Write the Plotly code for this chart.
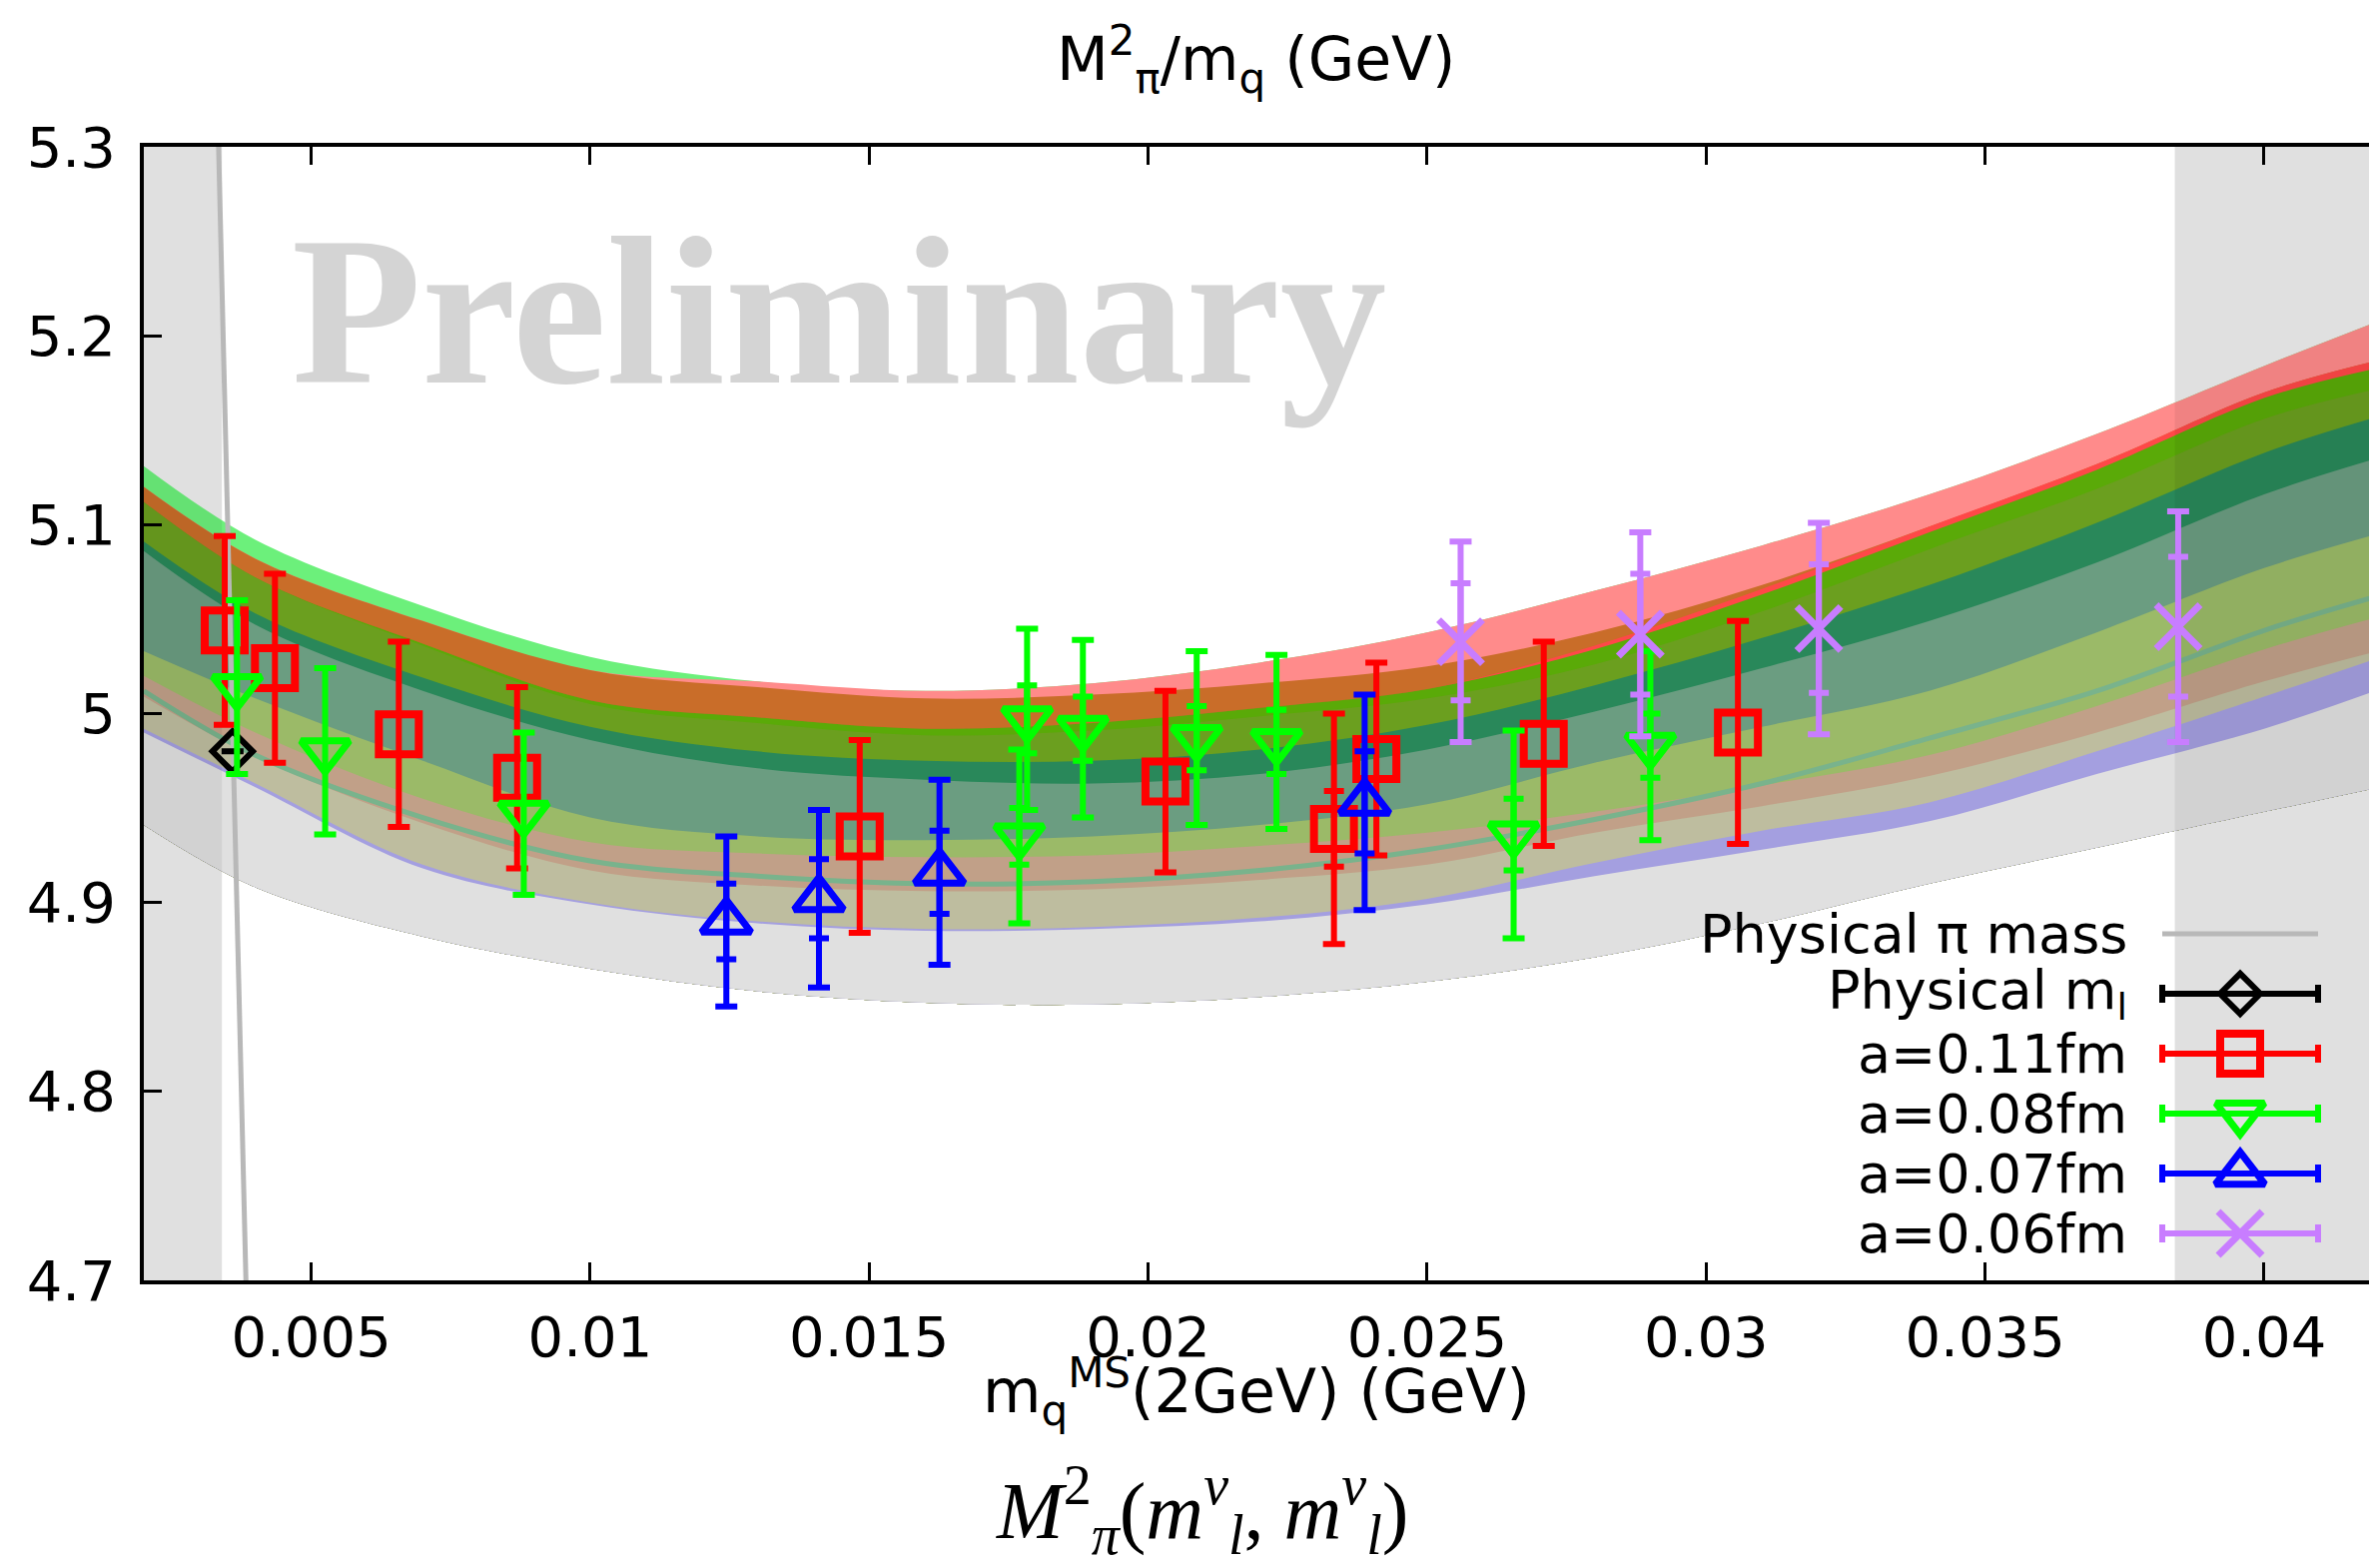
import plotly.graph_objects as go

# ---------------- data ----------------
phys_x = [0.00359]
phys_y = [4.980]

red_x = [0.00345, 0.00435, 0.00657, 0.00869, 0.01483, 0.02031, 0.02333, 0.02409, 0.02709, 0.03057]
red_y = [5.044, 5.024, 4.989, 4.966, 4.935, 4.964, 4.939, 4.976, 4.984, 4.990]
red_err = [0.050, 0.050, 0.049, 0.048, 0.051, 0.048, 0.061, 0.051, 0.054, 0.059]
red_err_in = [0, 0, 0, 0, 0, 0, 0.020, 0, 0, 0]

green_x = [0.00367, 0.00525, 0.00881, 0.01769, 0.01783, 0.01883, 0.02087, 0.02230, 0.02655, 0.02900]
green_y = [5.014, 4.980, 4.947, 4.935, 4.997, 4.992, 4.987, 4.985, 4.936, 4.983]
green_err = [0.046, 0.044, 0.043, 0.046, 0.048, 0.047, 0.046, 0.046, 0.055, 0.050]
green_err_in = [0, 0, 0, 0.015, 0.018, 0.017, 0.017, 0.017, 0.019, 0.017]

blue_x = [0.01244, 0.01410, 0.01626, 0.02388]
blue_y = [4.890, 4.902, 4.916, 4.953]
blue_err = [0.045, 0.047, 0.049, 0.057]
blue_err_in = [0.020, 0.021, 0.022, 0.027]

purple_x = [0.02560, 0.02882, 0.03202, 0.03846]
purple_y = [5.038, 5.042, 5.045, 5.046]
purple_err = [0.053, 0.054, 0.056, 0.061]
purple_err_in = [0.031, 0.032, 0.034, 0.037]

# fit bands: boundaries read top to bottom at sample x positions
band_x = [0.002, 0.004, 0.007, 0.010, 0.013, 0.016, 0.019, 0.022, 0.025, 0.028, 0.031, 0.034, 0.037, 0.040, 0.0419]
edge_top          = [5.131, 5.092, 5.057, 5.030, 5.017, 5.012, 5.016, 5.027, 5.043, 5.065, 5.089, 5.116, 5.148, 5.184, 5.206]
edge_lightgreen   = [5.120, 5.082, 5.049, 5.023, 5.017, 5.012, 5.016, 5.027, 5.043, 5.065, 5.089, 5.116, 5.148, 5.184, 5.206]
edge_pink         = [5.120, 5.082, 5.049, 5.023, 5.014, 5.008, 5.010, 5.016, 5.025, 5.043, 5.068, 5.099, 5.132, 5.170, 5.186]
edge_orange       = [5.112, 5.072, 5.037, 5.007, 4.998, 4.992, 4.995, 5.003, 5.013, 5.036, 5.066, 5.099, 5.132, 5.170, 5.186]
edge_redline      = [5.112, 5.072, 5.037, 5.007, 4.998, 4.992, 4.995, 5.003, 5.013, 5.034, 5.063, 5.096, 5.129, 5.167, 5.182]
edge_brightgreen  = [5.112, 5.072, 5.036, 5.005, 4.995, 4.9885, 4.991, 4.9985, 5.008, 5.026, 5.054, 5.087, 5.119, 5.156, 5.171]
edge_olive        = [5.091, 5.053, 5.019, 4.993, 4.980, 4.975, 4.975, 4.981, 4.994, 5.015, 5.040, 5.068, 5.101, 5.138, 5.156]
edge_darkgreen    = [5.086, 5.047, 5.012, 4.986, 4.971, 4.965, 4.963, 4.968, 4.981, 5.001, 5.024, 5.049, 5.080, 5.116, 5.134]
edge_graygreen    = [5.033, 5.008, 4.975, 4.945, 4.935, 4.933, 4.935, 4.941, 4.952, 4.974, 4.993, 5.012, 5.043, 5.077, 5.094]
edge_lightolive   = [5.020, 4.990, 4.955, 4.932, 4.926, 4.924, 4.925, 4.930, 4.937, 4.948, 4.962, 4.978, 5.004, 5.034, 5.050]
edge_tan          = [5.009, 4.977, 4.942, 4.917, 4.909, 4.906, 4.907, 4.912, 4.920, 4.937, 4.951, 4.967, 4.990, 5.017, 5.032]
edge_khaki        = [4.992, 4.963, 4.920, 4.900, 4.890, 4.886, 4.887, 4.892, 4.902, 4.921, 4.938, 4.953, 4.980, 5.009, 5.028]
edge_lavender     = [4.990, 4.961, 4.918, 4.899, 4.889, 4.885, 4.886, 4.890, 4.899, 4.914, 4.928, 4.943, 4.968, 4.992, 5.011]
edge_bottom       = [4.941, 4.908, 4.882, 4.865, 4.853, 4.847, 4.846, 4.850, 4.858, 4.871, 4.889, 4.910, 4.929, 4.948, 4.960]
teal_line_y       = [5.012, 4.978, 4.945, 4.922, 4.914, 4.910, 4.911, 4.917, 4.928, 4.944, 4.963, 4.987, 5.012, 5.044, 5.061]

pi_line_x = [0.00334, 0.00383]
pi_line_y = [5.3, 4.7]
shade_left_x = [0.0015, 0.0034]
shade_right_x = [0.0384, 0.0430]

x_range = [0.002, 0.04188]
y_range = [4.7, 5.3]
x_tickvals = [0.005, 0.01, 0.015, 0.02, 0.025, 0.03, 0.035, 0.04]
x_ticktext = ["0.005", "0.01", "0.015", "0.02", "0.025", "0.03", "0.035", "0.04"]
y_tickvals = [4.7, 4.8, 4.9, 5.0, 5.1, 5.2, 5.3]
y_ticktext = ["4.7", "4.8", "4.9", "5", "5.1", "5.2", "5.3"]

legend_labels = ["Physical π mass", "Physical m<sub>l</sub>", "a=0.11fm", "a=0.08fm", "a=0.07fm", "a=0.06fm"]
title_text = "M<sup>2</sup><sub>π</sub>/m<sub>q</sub> (GeV)"
xtitle_text = "m<sub>q</sub><sup>MS</sup>(2GeV) (GeV)"
formula_text = ("<i>M</i><sup>2</sup><sub><i>π</i></sub>(<i>m</i><sup><i>v</i></sup><sub><i>l</i></sub>, "
                "<i>m</i><sup><i>v</i></sup><sub><i>l</i></sub>)")
watermark_text = "<b>Preliminary</b>"

# ---------------- styles ----------------
W, H = 2372, 1570
ML, MR, MT, MB = 144, 0, 147, 288
PW, PH = W - ML - MR, H - MT - MB

band_layers = [
    (edge_top, "#6cf07b"),
    (edge_lightgreen, "#ff8b8b"),
    (edge_pink, "#c96d29"),
    (edge_orange, "#ff4848"),
    (edge_redline, "#5aaa08"),
    (edge_brightgreen, "#6b9f1f"),
    (edge_olive, "#29885a"),
    (edge_darkgreen, "#6b9d81"),
    (edge_graygreen, "#9bba68"),
    (edge_lightolive, "#c1a088"),
    (edge_tan, "#bebd9f"),
    (edge_khaki, "#a49fe0"),
    (edge_lavender, "#e0e0e0"),
]

RED, GREEN, BLUE, PURPLE, BLACK = "#ff0000", "#00ff00", "#0000ff", "#c87dff", "#000000"
ERR_T = 6

fig = go.Figure()

# bands (painter's order, each filled down to the bottom edge)
for top, col in band_layers:
    fig.add_trace(go.Scatter(x=band_x, y=edge_bottom, mode="lines",
                             line=dict(width=0, shape="spline"), showlegend=False, hoverinfo="skip"))
    fig.add_trace(go.Scatter(x=band_x, y=top, mode="lines", fill="tonexty", fillcolor=col,
                             line=dict(width=0, shape="spline"), showlegend=False, hoverinfo="skip"))

fig.add_trace(go.Scatter(x=band_x, y=teal_line_y, mode="lines",
                         line=dict(width=5, color="#79b38c", shape="spline"),
                         showlegend=False, hoverinfo="skip"))

# darkening overlay of the vertical shaded regions
for sx in (shade_left_x, shade_right_x):
    fig.add_trace(go.Scatter(x=[sx[0], sx[1], sx[1], sx[0], sx[0]],
                             y=[y_range[0], y_range[0], y_range[1], y_range[1], y_range[0]],
                             mode="lines", fill="toself", fillcolor="rgba(0,0,0,0.06)",
                             line=dict(width=0), showlegend=False, hoverinfo="skip"))

# physical pion mass line
fig.add_trace(go.Scatter(x=pi_line_x, y=pi_line_y, mode="lines",
                         line=dict(color="#b8b8b8", width=5), showlegend=False, hoverinfo="skip"))


def add_series(xs, ys, err, err_in, color, symbol, size, lw):
    fig.add_trace(go.Scatter(
        x=xs, y=ys, mode="markers",
        marker=dict(symbol=symbol, size=size, color=color, line=dict(width=lw, color=color)),
        error_y=dict(type="data", array=err, visible=True, color=color, thickness=ERR_T, width=11),
        showlegend=False, hoverinfo="skip"))
    if err_in is not None:
        xi = [x for x, e in zip(xs, err_in) if e > 0]
        yi = [y for y, e in zip(ys, err_in) if e > 0]
        ei = [e for e in err_in if e > 0]
        if xi:
            fig.add_trace(go.Scatter(
                x=xi, y=yi, mode="markers", marker=dict(size=1, color="rgba(0,0,0,0)"),
                error_y=dict(type="data", array=ei, visible=True, color=color, thickness=ERR_T, width=10),
                showlegend=False, hoverinfo="skip"))


MARK = {
    "black": (BLACK, "diamond-open", 31, 6),
    "red": (RED, "square-open", 40, 8),
    "green": (GREEN, "triangle-down-open", 42, 7),
    "blue": (BLUE, "triangle-up-open", 43, 7),
    "purple": (PURPLE, "x-thin-open", 44, 7),
}

add_series(phys_x, phys_y, [0.0], None, *MARK["black"])
add_series(red_x, red_y, red_err, red_err_in, *MARK["red"])
add_series(green_x, green_y, green_err, green_err_in, *MARK["green"])
add_series(blue_x, blue_y, blue_err, blue_err_in, *MARK["blue"])
add_series(purple_x, purple_y, purple_err, purple_err_in, *MARK["purple"])

# ---------------- key (drawn in pixel coordinates of the plot area) ----------------
row_y = [347 - 60 * i for i in range(6)]
key_cx, key_half, key_text_x = 2099, 78, 1988
fig.add_trace(go.Scatter(x=[key_cx - key_half, key_cx + key_half], y=[row_y[0], row_y[0]],
                         xaxis="x2", yaxis="y2", mode="lines",
                         line=dict(color="#b8b8b8", width=5), showlegend=False, hoverinfo="skip"))
for key, ry in zip(["black", "red", "green", "blue", "purple"], row_y[1:]):
    col, sym, sz, lw = MARK[key]
    fig.add_trace(go.Scatter(
        x=[key_cx], y=[ry], xaxis="x2", yaxis="y2", mode="markers",
        marker=dict(symbol=sym, size=sz, color=col, line=dict(width=lw, color=col)),
        error_x=dict(type="data", array=[key_half], visible=True, color=col, thickness=ERR_T, width=9),
        showlegend=False, hoverinfo="skip"))

annotations = []
for lab, ry in zip(legend_labels, row_y):
    annotations.append(dict(x=key_text_x, y=ry, xref="x2", yref="y2", text=lab, showarrow=False,
                            xanchor="right", yanchor="middle",
                            font=dict(family="DejaVu Sans", size=54, color="black")))

annotations += [
    dict(x=0.5, y=1 + (MT - 60) / PH, xref="paper", yref="paper", text=title_text, showarrow=False,
         xanchor="center", yanchor="middle", font=dict(family="DejaVu Sans", size=60, color="black")),
    dict(x=0.5, y=-(1393 - (MT + PH)) / PH, xref="paper", yref="paper", text=xtitle_text, showarrow=False,
         xanchor="center", yanchor="middle", font=dict(family="DejaVu Sans", size=60, color="black")),
    dict(x=(1203 - ML) / PW, y=-(1512 - (MT + PH)) / PH, xref="paper", yref="paper", text=formula_text,
         showarrow=False, xanchor="center", yanchor="middle",
         font=dict(family="Liberation Serif", size=80, color="black")),
    dict(x=(840 - ML) / PW, y=1 - (311 - MT) / PH, xref="paper", yref="paper", text=watermark_text,
         showarrow=False, xanchor="center", yanchor="middle",
         font=dict(family="Liberation Serif", size=213, color="#d4d4d4")),
]

shapes = [
    dict(type="rect", xref="x", yref="y", x0=sx[0], x1=sx[1], y0=y_range[0], y1=y_range[1],
         fillcolor="#eeeeee", line=dict(width=0), layer="below")
    for sx in (shade_left_x, shade_right_x)
]

fig.update_layout(
    width=W, height=H,
    margin=dict(l=ML, r=MR, t=MT, b=MB, pad=0),
    paper_bgcolor="white", plot_bgcolor="white",
    font=dict(family="DejaVu Sans", size=56, color="black"),
    showlegend=False,
    xaxis=dict(range=x_range, tickvals=x_tickvals, ticktext=x_ticktext, showgrid=False, zeroline=False,
               showline=True, linewidth=4, linecolor="black", mirror="ticks",
               ticks="inside", ticklen=18, tickwidth=3, tickcolor="black",
               tickfont=dict(family="DejaVu Sans", size=56, color="black"), ticklabelstandoff=5),
    yaxis=dict(range=y_range, tickvals=y_tickvals, ticktext=y_ticktext, showgrid=False, zeroline=False,
               showline=True, linewidth=4, linecolor="black", mirror=False,
               ticks="inside", ticklen=18, tickwidth=3, tickcolor="black",
               tickfont=dict(family="DejaVu Sans", size=56, color="black"), ticklabelstandoff=13),
    xaxis2=dict(overlaying="x", range=[0, PW], visible=False),
    yaxis2=dict(overlaying="y", range=[0, PH], visible=False),
    annotations=annotations,
    shapes=shapes,
)

fig.write_html("out.html")
